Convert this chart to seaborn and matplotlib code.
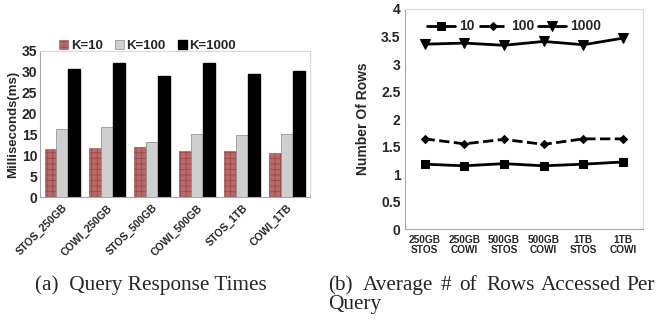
import matplotlib
matplotlib.use("Agg")
import matplotlib.pyplot as plt
import seaborn as sns
import numpy as np
import pandas as pd
from matplotlib.patches import Patch

# query response times (ms)
configs = ["STOS_250GB", "COWI_250GB", "STOS_500GB", "COWI_500GB", "STOS_1TB", "COWI_1TB"]
k_labels = ["K=10", "K=100", "K=1000"]
time_k10 = [11.5, 11.7, 12.1, 11.1, 11.1, 10.5]
time_k100 = [16.4, 16.9, 13.1, 15.1, 14.9, 15.1]
time_k1000 = [30.6, 32.2, 29.1, 32.0, 29.5, 30.1]

# average rows accessed per query
row_ticks = ["250GB\nSTOS", "250GB\nCOWI", "500GB\nSTOS", "500GB\nCOWI", "1TB\nSTOS", "1TB\nCOWI"]
series_names = ["10", "100", "1000"]
rows_10 = [1.18, 1.15, 1.19, 1.15, 1.18, 1.22]
rows_100 = [1.64, 1.55, 1.63, 1.54, 1.64, 1.64]
rows_1000 = [3.36, 3.38, 3.34, 3.41, 3.35, 3.47]

sns.set_style("white")
plt.rcParams['font.family'] = ['Liberation Sans', 'DejaVu Sans']
plt.rcParams['hatch.color'] = 'white'
plt.rcParams['hatch.linewidth'] = 0.6

fig = plt.figure(figsize=(6.56, 3.2), dpi=100)

def style_frame(ax):
    for s in ['left', 'bottom']:
        ax.spines[s].set_color('#a8a8a8')
    for s in ['top', 'right']:
        ax.spines[s].set_color('#d8d8d8')
    for s in ax.spines.values():
        s.set_linewidth(0.8)

# ---- (a) bar chart
ax1 = fig.add_axes([0.061, 0.384, 0.411, 0.457])
df = pd.DataFrame({
    'config': configs * 3,
    'k': sum([[k] * len(configs) for k in k_labels], []),
    'ms': time_k10 + time_k100 + time_k1000,
})
bar_colors = ['#b86a6a', '#cfcfcf', '#000000']
sns.barplot(data=df, x='config', y='ms', hue='k', palette=bar_colors,
            width=0.8, ax=ax1, legend=False, saturation=1)
for i, cont in enumerate(ax1.containers):
    for p in cont:
        if i == 0:
            p.set_hatch('+++')
            p.set_edgecolor('#9a4a4a')
            p.set_linewidth(0.4)
        elif i == 1:
            p.set_edgecolor('#8a8a8a')
            p.set_linewidth(0.5)
        else:
            p.set_edgecolor('black')
ax1.set_ylim(0, 35)
ax1.set_yticks(range(0, 36, 5))
ax1.set_xlim(-0.5, 5.5)
ax1.set_xlabel('')
ax1.set_ylabel('Milliseconds(ms)', fontsize=9.5, fontweight='bold', labelpad=2)
ax1.tick_params(axis='y', labelsize=10, length=0, pad=2)
for t in ax1.get_yticklabels():
    t.set_fontweight('bold')
ax1.set_xticks(range(6))
ax1.set_xticklabels(configs, rotation=45, ha='right', rotation_mode='anchor',
                    fontsize=7.6, fontweight='bold')
ax1.tick_params(axis='x', length=0, pad=4)
ax1.set_xticks(np.arange(-0.5, 6, 1), minor=True)
ax1.tick_params(axis='x', which='minor', length=3, color='#a8a8a8', direction='out')
style_frame(ax1)
handles = [Patch(facecolor=bar_colors[0], hatch='+++', edgecolor='#9a4a4a', linewidth=0.4),
           Patch(facecolor=bar_colors[1], edgecolor='#8a8a8a', linewidth=0.5),
           Patch(facecolor=bar_colors[2], edgecolor='black')]
ax1.legend(handles, k_labels, ncol=3, loc='lower left', bbox_to_anchor=(0.07, 0.99),
           frameon=False, handlelength=0.7, handleheight=0.7, handletextpad=0.2,
           columnspacing=0.9, borderaxespad=0, borderpad=0,
           prop={'size': 9.5, 'weight': 'bold'})

# ---- (b) line chart
ax2 = fig.add_axes([0.617, 0.284, 0.363, 0.688])
x = np.arange(len(row_ticks))
line_specs = [(rows_10, 's', 6, '-'), (rows_100, 'D', 4.5, '--'), (rows_1000, 'v', 6.5, '-')]
for name, (vals, mk, ms, ls) in zip(series_names, line_specs):
    sns.lineplot(x=x, y=vals, ax=ax2, color='black', linewidth=2, linestyle=ls,
                 marker=mk, markersize=ms, markeredgecolor='black', label=name)
ax2.set_xlim(-0.5, 5.5)
ax2.set_ylim(0, 4)
ax2.set_yticks(np.arange(0, 4.01, 0.5))
ax2.set_yticklabels(['%g' % v for v in np.arange(0, 4.01, 0.5)], fontsize=10, fontweight='bold')
ax2.tick_params(axis='y', length=0, pad=3)
ax2.set_xticks(x)
ax2.set_xticklabels(row_ticks, fontsize=7.3, fontweight='bold', linespacing=1.05)
ax2.tick_params(axis='x', length=0, pad=4)
ax2.set_xticks(np.arange(-0.5, 6, 1), minor=True)
ax2.tick_params(axis='x', which='minor', length=17, color='#a8a8a8', direction='out', width=0.8)
ax2.set_ylabel('Number Of Rows', fontsize=10, fontweight='bold', labelpad=8)
style_frame(ax2)
ax2.legend(ncol=3, loc='upper left', bbox_to_anchor=(0.06, 0.99), frameon=False,
           handlelength=2.0, handletextpad=0.3, columnspacing=0.3,
           borderaxespad=0.2, prop={'size': 10, 'weight': 'bold'})

# ---- captions (line 1 of (b) is justified, so words are spread out)
cap_font = dict(family='Liberation Serif', fontsize=15.3, va='baseline', ha='left')
fig.text(35 / 656, 1 - 290 / 320, '(a)  Query Response Times', **cap_font)
cap_b_words = ['(b)', 'Average', '#', 'of', 'Rows', 'Accessed', 'Per']
cap_b_x = [328, 363, 441, 459, 486, 541, 626]
for w, xp in zip(cap_b_words, cap_b_x):
    fig.text(xp / 656, 1 - 290 / 320, w, **cap_font)
fig.text(328 / 656, 1 - 309 / 320, 'Query', **cap_font)

fig.savefig('out.png', dpi=100)
